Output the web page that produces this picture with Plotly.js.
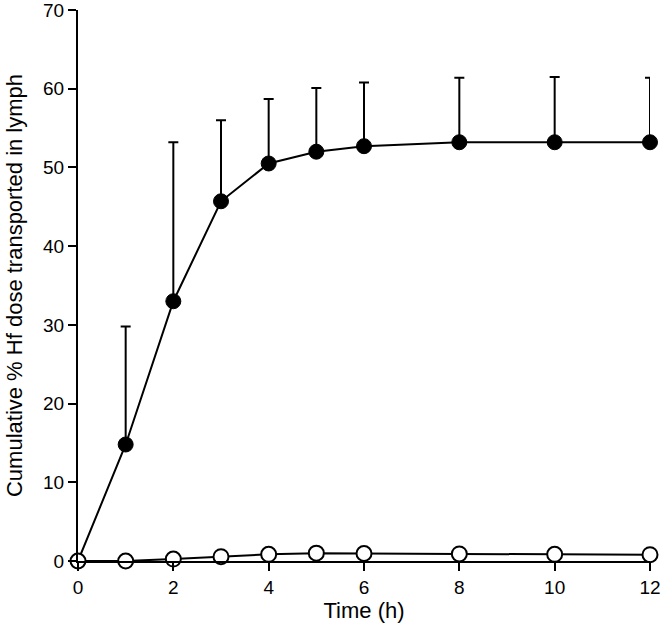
<!DOCTYPE html>
<html>
<head>
<meta charset="utf-8">
<script src="https://cdn.plot.ly/plotly-3.0.1.min.js"></script>
<style>
  html, body { margin: 0; padding: 0; background: #fff; }
  #chart { width: 662px; height: 634px; }
</style>
</head>
<body>
<div id="chart"></div>
<script>
// Time points (h)
var timeHours = [0, 1, 2, 3, 4, 5, 6, 8, 10, 12];
// Filled circles: cumulative % Hf dose (mean) and upper error (mean + SD)
var filledMean = [0, 14.8, 33.0, 45.7, 50.5, 52.0, 52.7, 53.2, 53.2, 53.2];
var filledUpper = [0, 29.8, 53.2, 56.0, 58.7, 60.1, 60.8, 61.4, 61.5, 61.4];
// Open circles: cumulative % Hf dose (mean)
var openMean = [0, 0.0, 0.25, 0.55, 0.85, 1.0, 0.95, 0.9, 0.85, 0.8];

var xTicks = [0, 2, 4, 6, 8, 10, 12];
var yTicks = [0, 10, 20, 30, 40, 50, 60, 70];
var xTitle = 'Time (h)';
var yTitle = 'Cumulative % Hf dose transported in lymph';

var filledErr = filledUpper.map(function (u, i) { return u - filledMean[i]; });
var zeros = filledMean.map(function () { return 0; });

var traces = [
  {
    x: timeHours, y: filledMean, type: 'scatter', mode: 'lines+markers',
    line: { color: '#000', width: 2 },
    marker: { color: '#000', size: 15, line: { color: '#000', width: 1 } },
    error_y: { type: 'data', symmetric: false, array: filledErr, arrayminus: zeros,
               color: '#000', thickness: 2, width: 5 },
    cliponaxis: false, showlegend: false, hoverinfo: 'none'
  },
  {
    x: timeHours, y: openMean, type: 'scatter', mode: 'lines+markers',
    line: { color: '#000', width: 2 },
    marker: { color: '#fff', size: 15, line: { color: '#000', width: 2 } },
    cliponaxis: false, showlegend: false, hoverinfo: 'none'
  }
];

var fontFam = '"Liberation Sans", Arial, Helvetica, sans-serif';
var layout = {
  width: 662, height: 634,
  margin: { l: 78, r: 12, t: 10, b: 73 },
  paper_bgcolor: '#fff', plot_bgcolor: '#fff',
  font: { family: fontFam, color: '#000', size: 19 },
  xaxis: {
    range: [0, 12], tickvals: xTicks, ticktext: xTicks.map(String),
    showgrid: false, zeroline: false, showline: true, linecolor: '#000', linewidth: 2,
    ticks: 'outside', ticklen: 8, tickwidth: 2, tickcolor: '#000',
    tickfont: { size: 19 }, ticklabeloverflow: 'allow',
    title: { text: xTitle, font: { size: 22 }, standoff: 6 }
  },
  yaxis: {
    range: [0, 70], tickvals: yTicks, ticktext: yTicks.map(String),
    showgrid: false, zeroline: false, showline: true, linecolor: '#000', linewidth: 2,
    ticks: 'outside', ticklen: 8, tickwidth: 2, tickcolor: '#000',
    tickfont: { size: 19 }, ticklabeloverflow: 'allow',
    title: { text: yTitle, font: { size: 22 }, standoff: 14 }
  }
};

Plotly.newPlot('chart', traces, layout, { staticPlot: true, displayModeBar: false });
</script>
</body>
</html>
